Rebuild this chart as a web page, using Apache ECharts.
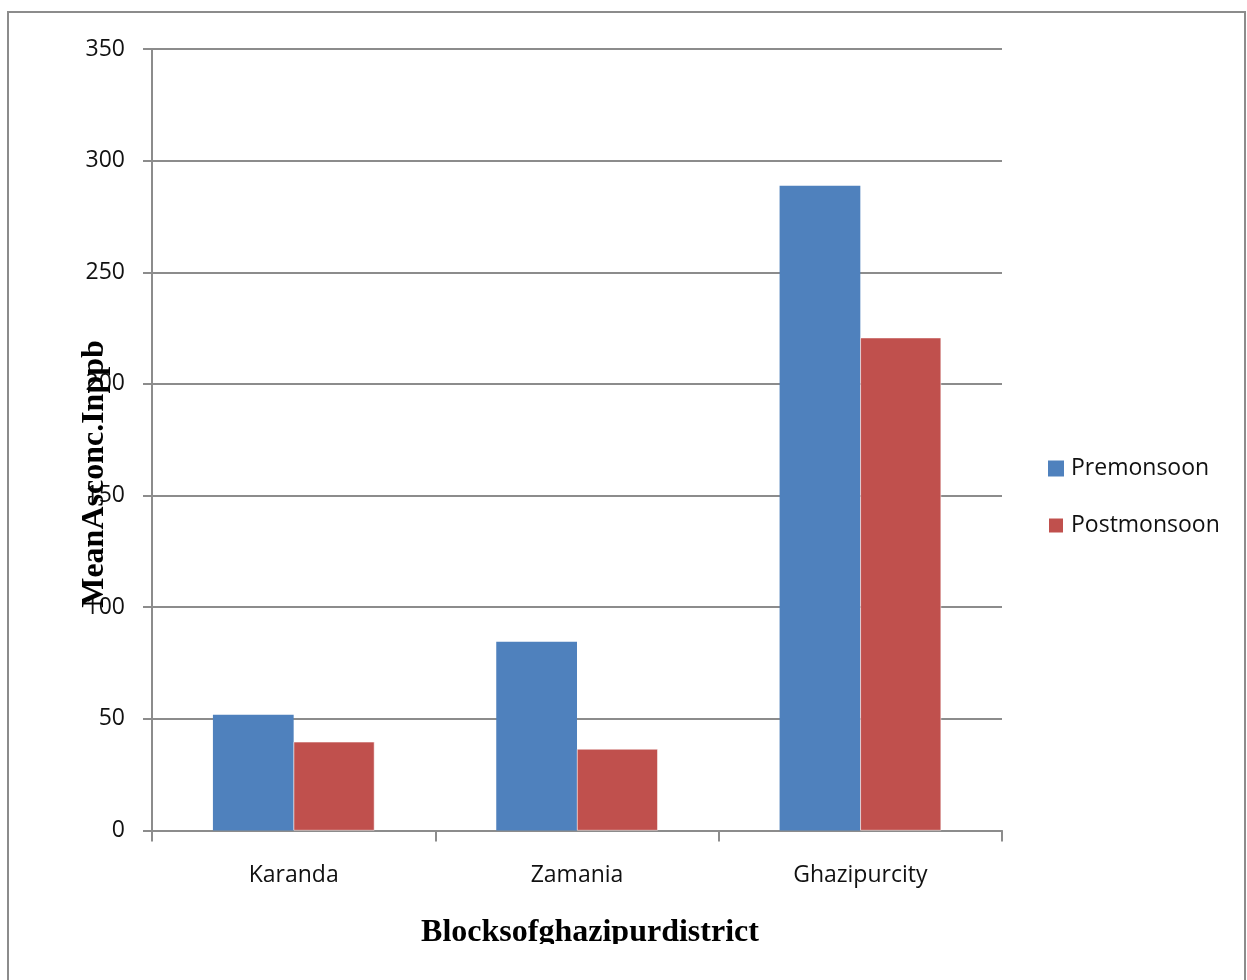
<!DOCTYPE html>
<html>
<head>
<meta charset="utf-8">
<script src="https://cdn.jsdelivr.net/npm/echarts@6/dist/echarts.min.js"></script>
<style>
  html, body { margin: 0; padding: 0; background: #fff; }
  #chart { width: 1247px; height: 980px; }
</style>
</head>
<body>
<div id="chart"></div>
<script>
// Mean arsenic concentration (ppb) by block of Ghazipur district
const categories = ['Karanda', 'Zamania', 'Ghazipurcity'];
const premonsoon = [51.8, 84.5, 288.8];
const postmonsoon = [39.7, 36.5, 220.7];
const yTicks = { min: 0, max: 350, interval: 50 };

const chart = echarts.init(document.getElementById('chart'));
const gridColor = '#8c8c8c';
const labelFont = '"Open Sans", "Noto Sans", sans-serif';
const titleFont = '"Liberation Serif", "DejaVu Serif", serif';

chart.setOption({
  animation: false,
  backgroundColor: '#fff',
  grid: { left: 152, right: 245, top: 49, bottom: 149.5, containLabel: false },
  legend: {
    orient: 'vertical',
    left: 1047,
    top: 457,
    padding: 0,
    itemWidth: 16,
    itemHeight: 16,
    itemGap: 34,
    icon: 'rect',
    textStyle: { fontFamily: labelFont, fontSize: 23, color: '#111', padding: [0, 0, 0, 2] },
    data: ['Premonsoon', 'Postmonsoon']
  },
  xAxis: {
    type: 'category',
    data: categories,
    axisLine: { lineStyle: { color: gridColor, width: 2 } },
    axisTick: { show: true, length: 11, lineStyle: { color: gridColor, width: 2 } },
    axisLabel: { fontFamily: labelFont, fontSize: 23, color: '#111', margin: 33 }
  },
  yAxis: {
    type: 'value',
    min: yTicks.min,
    max: yTicks.max,
    interval: yTicks.interval,
    axisLine: { show: true, lineStyle: { color: gridColor, width: 2 } },
    axisTick: { show: true, length: 9, lineStyle: { color: gridColor, width: 2 } },
    splitLine: { show: true, lineStyle: { color: gridColor, width: 2 } },
    axisLabel: { fontFamily: labelFont, fontSize: 23, color: '#111', margin: 27 }
  },
  series: [
    {
      name: 'Premonsoon',
      type: 'bar',
      data: premonsoon,
      barGap: '0%',
      barCategoryGap: '43%',
      itemStyle: { color: '#4f81bd' }
    },
    {
      name: 'Postmonsoon',
      type: 'bar',
      data: postmonsoon,
      itemStyle: { color: '#c0504d', borderColor: '#fff', borderWidth: 0.5 }
    }
  ],
  graphic: [
    {
      type: 'rect',
      shape: { x: 8, y: 12, width: 1237, height: 1000 },
      style: { fill: 'none', stroke: '#8c8c8c', lineWidth: 2 },
      silent: true,
      z: -10
    },
    {
      type: 'text',
      x: 95,
      y: 474,
      rotation: Math.PI / 2,
      style: {
        text: 'MeanAsconc.Inppb',
        font: 'bold 32px ' + titleFont,
        fill: '#000',
        align: 'center',
        verticalAlign: 'middle'
      },
      z: 100
    },
    {
      type: 'text',
      x: 590,
      y: 933,
      style: {
        text: 'Blocksofghazipurdistrict',
        font: 'bold 32px ' + titleFont,
        fill: '#000',
        align: 'center',
        verticalAlign: 'middle'
      },
      z: 100
    },
    {
      // the chart area ends just under the x title, trimming its descenders
      type: 'rect',
      shape: { x: 10, y: 944, width: 1233, height: 40 },
      style: { fill: '#fff' },
      silent: true,
      z: 101
    }
  ]
});
</script>
</body>
</html>
